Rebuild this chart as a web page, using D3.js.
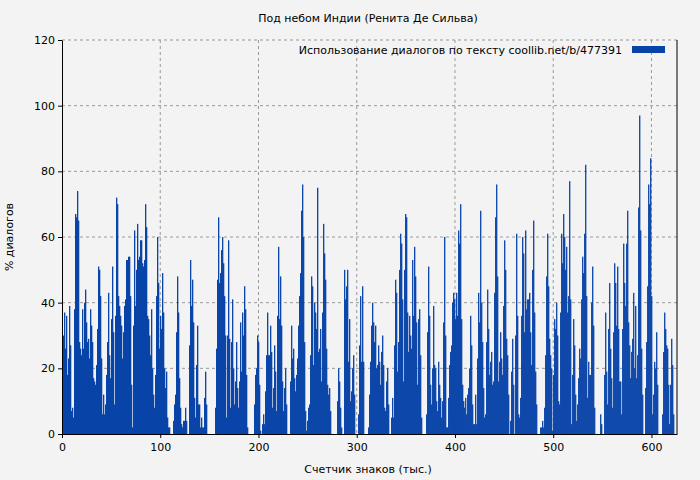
<!DOCTYPE html>
<html>
<head>
<meta charset="utf-8">
<script src="https://cdn.jsdelivr.net/npm/d3@7"></script>
<style>
  body { margin: 0; background: #f3f3f3; }
  text { font-family: "DejaVu Sans", sans-serif; }
</style>
</head>
<body>
<div id="chart"></div>
<script>
// share of dialogue per ~1000 chars
var dialog0 = [30,37,26,36,18,23,39,27,7,8,5,38,67,66,74,65,28,26,24,38,26,40,44,34,28,29,23,38,33,28,17,16,15,21,32,51,50,42,23,6,12,6,9,18,28,43,24,17,35,51,31,9,36,72,70,42,39,36,33,23,31,39,41,53,53,54,54];
var dialog1 = [42,15,2,33,62,39,50,64,53,54,59,59,52,51,53,70,63,36,35,30,24,38,20,12,8,18,42,60,46,26,36,32,49,37,20,14,19,5,2,2,0,0,0,4,9,12,31,48,37,17,8,3,2,4,4,8,4,0,0,27,53,39,47,34,11,5,21,33,9,9];
var dialog2 = [2,5,2,2,11,19,9,0,0,0,0,0,0,0,0,8,26,47,66,46,49,56,60,52,42,30,5,30,59,29,8,28,41,20,9,16,28,14,8,16,34,19,37,30,45,38,18,2,0,0,0,0,0,0,9,18,20,30,28,15,1,0,3,6,3,13,24,37,24,24];
var dialog3 = [33,25,8,14,27,19,7,36,57,35,48,33,16,7,14,20,9,0,0,0,16,33,23,26,17,13,18,23,33,42,49,68,76,60,28,7,1,4,8,9,24,48,45,21,40,37,32,75,25,26,32,16,37,64,55,47,26,15,12,14,7,0,0,0,0,0,0,10,20,16];
var dialog4 = [8,2,0,0,50,41,45,50,22,35,10,13,20,24,12,0,0,0,6,27,42,22,45,22,0,0,0,0,2,12,22,33,40,34,28,33,20,21,27,22,15,25,30,21,8,7,16,20,9,0,0,5,11,5,27,47,43,19,28,50,61,58,41,16,50,67,66,37,25,36];
var dialog5 = [30,26,53,36,57,48,34,15,35,38,24,5,0,0,0,0,6,31,51,36,15,9,20,39,21,20,10,7,22,15,11,5,10,34,60,30,2,2,11,21,25,27,40,43,41,35,43,36,62,58,70,35,15,10,8,11,6,12,14,20,36,27,9,3,3,12,3,23,43,34];
var dialog6 = [68,40,28,14,5,6,28,44,32,18,22,25,15,16,43,66,76,48,16,22,31,23,18,39,59,50,29,24,12,0,4,19,29,15,0,30,61,36,6,5,11,36,60,55,31,62,38,41,41,43,31,21,50,65,37,19,9,0,0,0,2,2,4,2,8,24,48,61,45,29];
var dialog7 = [24,20,1,18,35,32,40,30,10,9,37,61,52,67,60,50,57,37,42,77,41,3,18,35,27,12,4,9,17,26,23,41,54,49,61,82,42,11,22,18,18,40,51,33,8,0,0,0,0,0,6,3,0,0,18,37,19,9,32,46];
var dialog8 = [26,17,8,31,52,46,33,51,32,16,16,6,32,58,46,39,58,68,34,27,17,25,29,43,20,39,17,24,69,97,62,26,12,0,0,14,28,45,76,70,84,42,6,12,22,20,31,15,0,0,0,0,6,25,37,32,27,26,15,3,15,29,21,6,0];
var dialog = [].concat(dialog0, dialog1, dialog2, dialog3, dialog4, dialog5, dialog6, dialog7, dialog8);

var step = 1.018;           // thousand chars per bar
var xTicks = [0, 100, 200, 300, 400, 500, 600];
var yTicks = [0, 20, 40, 60, 80, 100, 120];

var title = "Под небом Индии (Ренита Де Сильва)";
var legendText = "Использование диалогов по тексту  coollib.net/b/477391";
var xLabel = "Счетчик знаков (тыс.)";
var yLabel = "% диалогов";

var W = 700, H = 480;
var m = {left: 62, right: 23, top: 40, bottom: 46};

var svg = d3.select("#chart").append("svg")
            .attr("width", W).attr("height", H);
svg.append("rect").attr("width", W).attr("height", H).attr("fill", "#f3f3f3");

var x = d3.scaleLinear().domain([0, 626]).range([m.left, W - m.right]);
var y = d3.scaleLinear().domain([0, 120]).range([H - m.bottom, m.top]);

// grid
svg.selectAll("line.hg").data(yTicks.slice(1)).enter().append("line")
  .attr("x1", m.left).attr("x2", W - m.right)
  .attr("y1", function(d) { return y(d); }).attr("y2", function(d) { return y(d); })
  .attr("stroke", "#999").attr("stroke-dasharray", "3,3");
svg.selectAll("line.vg").data(xTicks.slice(1)).enter().append("line")
  .attr("x1", function(d) { return x(d); }).attr("x2", function(d) { return x(d); })
  .attr("y1", m.top).attr("y2", H - m.bottom)
  .attr("stroke", "#999").attr("stroke-dasharray", "3,3");

// bars
svg.selectAll("rect.bar").data(dialog).enter().append("rect")
  .attr("x", function(d, i) { return x((i + 1) * step); })
  .attr("width", x(step) - x(0) + 0.3)
  .attr("y", function(d) { return y(d); })
  .attr("height", function(d) { return y(0) - y(d); })
  .attr("fill", "#0843a8");

// axes
var xAxis = d3.axisBottom(x).tickValues(xTicks).tickSize(4).tickSizeOuter(0);
var yAxis = d3.axisLeft(y).tickValues(yTicks).tickSize(4).tickSizeOuter(0);
svg.append("g").attr("transform", "translate(0," + (H - m.bottom) + ")").call(xAxis)
  .call(function(g) { g.selectAll("text").attr("font-size", 11).attr("fill", "#000").attr("dy", "0.9em"); });
svg.append("g").attr("transform", "translate(" + m.left + ",0)").call(yAxis)
  .call(function(g) { g.selectAll("text").attr("font-size", 11).attr("fill", "#000"); });
svg.append("line").attr("x1", W - m.right).attr("x2", W - m.right)
  .attr("y1", m.top).attr("y2", H - m.bottom).attr("stroke", "#000");
svg.selectAll(".domain").attr("stroke", "#000");

// texts
svg.append("text").attr("x", 368).attr("y", 22).attr("text-anchor", "middle")
  .attr("font-size", 11).text(title);
svg.append("text").attr("x", 368).attr("y", 473).attr("text-anchor", "middle")
  .attr("font-size", 11).text(xLabel);
svg.append("text").attr("transform", "translate(13,237) rotate(-90)")
  .attr("text-anchor", "middle").attr("font-size", 11).text(yLabel);

// legend
svg.append("text").attr("x", 622).attr("y", 54).attr("text-anchor", "end")
  .attr("font-size", 11).text(legendText);
svg.append("rect").attr("x", 632).attr("y", 46).attr("width", 33).attr("height", 7)
  .attr("fill", "#0843a8");
</script>
</body>
</html>
